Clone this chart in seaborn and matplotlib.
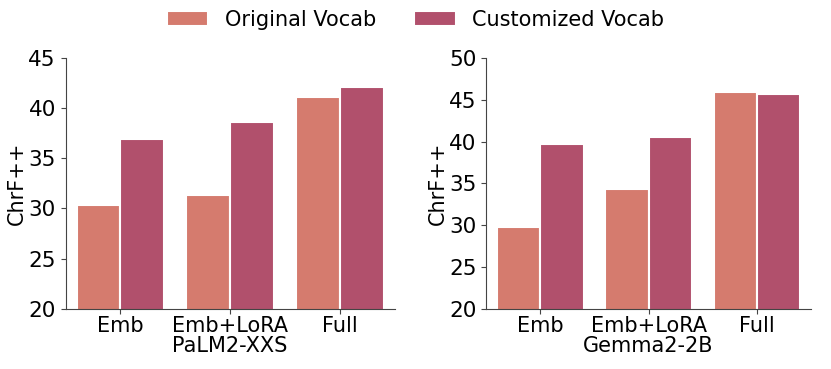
import pandas as pd
import seaborn as sns
import matplotlib.pyplot as plt

settings = ['Emb', 'Emb+LoRA', 'Full']
vocabs = ['Original Vocab', 'Customized Vocab']

palm_orig = [30.3, 31.3, 41.1]
palm_cust = [36.9, 38.6, 42.1]
gemma_orig = [29.8, 34.3, 45.9]
gemma_cust = [39.7, 40.6, 45.7]

colors = ['#d57b6e', '#b1506c']


def make_df(orig, cust):
    rows = []
    for s, o, c in zip(settings, orig, cust):
        rows.append({'setting': s, 'vocab': vocabs[0], 'score': o})
        rows.append({'setting': s, 'vocab': vocabs[1], 'score': c})
    return pd.DataFrame(rows)


sns.set_style('ticks')
plt.rcParams['font.family'] = ['DejaVu Sans']
plt.rcParams['text.color'] = 'black'
plt.rcParams['axes.labelcolor'] = 'black'
plt.rcParams['xtick.color'] = '#444444'
plt.rcParams['ytick.color'] = '#444444'
plt.rcParams['xtick.labelcolor'] = 'black'
plt.rcParams['ytick.labelcolor'] = 'black'
plt.rcParams['axes.edgecolor'] = '#444444'

fig = plt.figure(figsize=(8.31, 3.69), dpi=100)
ax1 = fig.add_axes([0.079, 0.163, 0.396, 0.68])
ax2 = fig.add_axes([0.585, 0.163, 0.391, 0.68])

panels = [
    (ax1, palm_orig, palm_cust, 'PaLM2-XXS', 45),
    (ax2, gemma_orig, gemma_cust, 'Gemma2-2B', 50),
]

for ax, orig, cust, name, ymax in panels:
    df = make_df(orig, cust)
    sns.barplot(data=df, x='setting', y='score', hue='vocab', palette=colors,
                saturation=1, edgecolor='white', linewidth=1.5, ax=ax,
                legend=(ax is ax1))
    ax.set_ylim(20, ymax)
    ax.set_yticks(range(20, ymax + 1, 5))
    ax.set_xlabel(name, fontsize=15, labelpad=0)
    ax.set_ylabel('ChrF++', fontsize=15, labelpad=1)
    ax.tick_params(axis='y', labelsize=15.5)
    ax.tick_params(axis='x', labelsize=15, pad=2)
    sns.despine(ax=ax)

handles, labels = ax1.get_legend_handles_labels()
ax1.get_legend().remove()
fig.legend(handles, labels, loc='upper center', ncol=2, frameon=False,
           fontsize=15, bbox_to_anchor=(0.5, 1.025), handlelength=2.0,
           handletextpad=0.8, columnspacing=1.8)

plt.savefig('out.png', dpi=100)
